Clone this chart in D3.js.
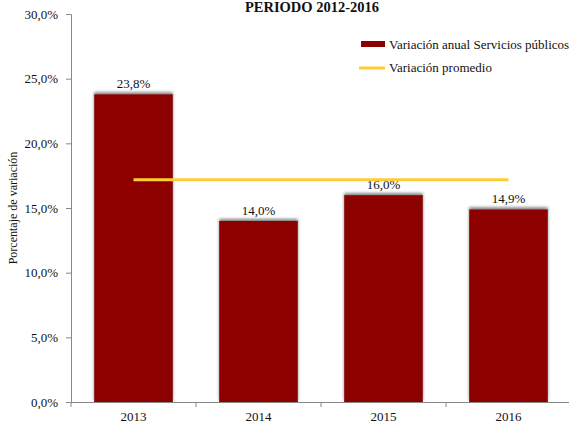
<!DOCTYPE html>
<html>
<head>
<meta charset="utf-8">
<script src="https://cdn.jsdelivr.net/npm/d3@7"></script>
<style>
  html, body { margin: 0; padding: 0; background: #fff; }
  svg { display: block; }
  svg text { font-family: "Liberation Serif", "Times New Roman", serif; }
</style>
</head>
<body>
<svg id="chart" width="569" height="425"></svg>
<script>
const years = ["2013", "2014", "2015", "2016"];
const annualVariation = [23.8, 14.0, 16.0, 14.9];
const yTicks = [0, 5, 10, 15, 20, 25, 30];
const titleText = "PERIODO 2012-2016";
const yAxisTitle = "Porcentaje de variación";
const legendLabels = ["Variación anual Servicios públicos", "Variación promedio"];

const averageVariation = d3.mean(annualVariation);
const fmt = v => v.toFixed(1).replace(".", ",") + "%";
const SERIF = "Liberation Serif, Times New Roman, serif";

const svg = d3.select("#chart");

const x = d3.scaleBand().domain(years).range([71, 571]).paddingInner(0.37).paddingOuter(0.185);
const y = d3.scaleLinear().domain([0, 30]).range([402, 14]);

// soft grey shadow around each bar
const defs = svg.append("defs");
const f = defs.append("filter").attr("id", "barShadow")
  .attr("x", "-10%").attr("y", "-10%").attr("width", "120%").attr("height", "120%");
f.append("feGaussianBlur").attr("in", "SourceAlpha").attr("stdDeviation", 1.8).attr("result", "blur");
f.append("feOffset").attr("in", "blur").attr("dx", 0).attr("dy", -2).attr("result", "off");
f.append("feFlood").attr("flood-color", "#777").attr("flood-opacity", 0.9).attr("result", "col");
f.append("feComposite").attr("in", "col").attr("in2", "off").attr("operator", "in").attr("result", "shadow");
const m = f.append("feMerge");
m.append("feMergeNode").attr("in", "shadow");
m.append("feMergeNode").attr("in", "SourceGraphic");

// y axis
const yAxis = svg.append("g").attr("transform", "translate(71,0)")
  .call(d3.axisLeft(y).tickValues(yTicks).tickFormat(fmt).tickSize(5).tickPadding(8));
yAxis.attr("font-family", SERIF);
yAxis.select(".domain").attr("stroke", "#888");
yAxis.selectAll(".tick line").attr("stroke", "#888");
yAxis.selectAll(".tick text").attr("font-size", 13).attr("fill", "#111");

// bars
svg.append("g").selectAll("rect").data(years).join("rect")
  .attr("x", d => x(d))
  .attr("width", x.bandwidth())
  .attr("y", (d, i) => y(annualVariation[i]))
  .attr("height", (d, i) => y(0) - y(annualVariation[i]))
  .attr("fill", "#8c0000")
  .attr("filter", "url(#barShadow)");

// x axis
const xAxis = svg.append("g").attr("transform", "translate(0,402)")
  .call(d3.axisBottom(x).tickSize(0).tickPadding(10));
xAxis.attr("font-family", SERIF);
xAxis.select(".domain").attr("stroke", "#888");
xAxis.selectAll(".tick text").attr("font-size", 13).attr("fill", "#111");
// category separators
const bounds = [0, 1, 2, 3].map(i => 71 + i * x.step());
xAxis.selectAll(".sep").data(bounds).join("line")
  .attr("x1", d => d).attr("x2", d => d).attr("y1", 0).attr("y2", 5)
  .attr("stroke", "#888");

// value labels
svg.append("g").selectAll("text").data(years).join("text")
  .attr("x", d => x(d) + x.bandwidth() / 2)
  .attr("y", (d, i) => y(annualVariation[i]) - 6)
  .attr("text-anchor", "middle")
  .attr("font-family", SERIF)
  .attr("font-size", 13).attr("fill", "#111")
  .text((d, i) => fmt(annualVariation[i]));

// average line
const cx = d => x(d) + x.bandwidth() / 2;
svg.append("path")
  .datum(years)
  .attr("d", d3.line().x(cx).y(() => y(averageVariation)))
  .attr("stroke", "#ffcc33").attr("stroke-width", 3).attr("fill", "none");

// title
svg.append("text").attr("x", 312).attr("y", 12).attr("text-anchor", "middle")
  .attr("font-family", SERIF)
  .attr("font-size", 14.5).attr("font-weight", "bold").attr("fill", "#111")
  .text(titleText);

// y axis title
svg.append("text").attr("transform", "translate(17,208) rotate(-90)")
  .attr("text-anchor", "middle").attr("font-family", SERIF)
  .attr("font-size", 12).attr("fill", "#111")
  .text(yAxisTitle);

// legend
const lg = svg.append("g").attr("font-family", SERIF);
lg.append("rect").attr("x", 361).attr("y", 41).attr("width", 24).attr("height", 6).attr("fill", "#8c0000");
lg.append("text").attr("x", 389).attr("y", 49).attr("font-size", 13).attr("fill", "#111").text(legendLabels[0]);
lg.append("line").attr("x1", 359).attr("x2", 385).attr("y1", 68).attr("y2", 68)
  .attr("stroke", "#ffcc33").attr("stroke-width", 3);
lg.append("text").attr("x", 389).attr("y", 72).attr("font-size", 13).attr("fill", "#111").text(legendLabels[1]);
</script>
</body>
</html>
